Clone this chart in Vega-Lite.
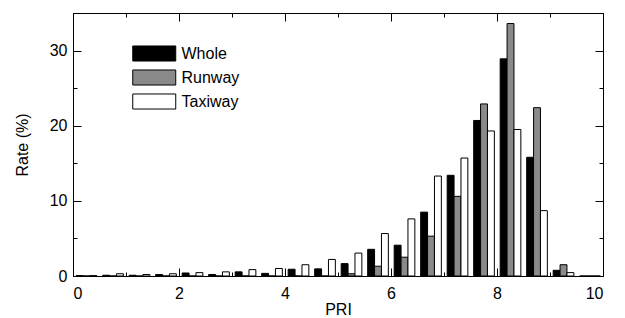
{
  "$schema": "https://vega.github.io/schema/vega-lite/v6.json",
  "width": 530,
  "height": 263,
  "autosize": {"type": "none"},
  "padding": {"left": 73, "top": 13, "right": 22, "bottom": 42},
  "background": "white",
  "config": {
    "font": "Liberation Sans",
    "view": {"stroke": "black", "strokeWidth": 1},
    "axis": {"grid": false, "domainColor": "black", "tickColor": "black", "labelColor": "black", "titleColor": "black", "labelFontSize": 16, "titleFontSize": 16, "titleFontWeight": "normal", "labelFont": "Liberation Sans", "titleFont": "Liberation Sans"}
  },
  "data": {
    "values": [
      {"pri": 0.25, "series": "Whole", "rate": 0.05}, {"pri": 0.25, "series": "Runway", "rate": 0}, {"pri": 0.25, "series": "Taxiway", "rate": 0.05},
      {"pri": 0.75, "series": "Whole", "rate": 0.1}, {"pri": 0.75, "series": "Runway", "rate": 0}, {"pri": 0.75, "series": "Taxiway", "rate": 0.3},
      {"pri": 1.25, "series": "Whole", "rate": 0.1}, {"pri": 1.25, "series": "Runway", "rate": 0}, {"pri": 1.25, "series": "Taxiway", "rate": 0.2},
      {"pri": 1.75, "series": "Whole", "rate": 0.2}, {"pri": 1.75, "series": "Runway", "rate": 0}, {"pri": 1.75, "series": "Taxiway", "rate": 0.3},
      {"pri": 2.25, "series": "Whole", "rate": 0.4}, {"pri": 2.25, "series": "Runway", "rate": 0}, {"pri": 2.25, "series": "Taxiway", "rate": 0.45},
      {"pri": 2.75, "series": "Whole", "rate": 0.2}, {"pri": 2.75, "series": "Runway", "rate": 0}, {"pri": 2.75, "series": "Taxiway", "rate": 0.55},
      {"pri": 3.25, "series": "Whole", "rate": 0.55}, {"pri": 3.25, "series": "Runway", "rate": 0}, {"pri": 3.25, "series": "Taxiway", "rate": 0.85},
      {"pri": 3.75, "series": "Whole", "rate": 0.35}, {"pri": 3.75, "series": "Runway", "rate": 0}, {"pri": 3.75, "series": "Taxiway", "rate": 1.0},
      {"pri": 4.25, "series": "Whole", "rate": 0.9}, {"pri": 4.25, "series": "Runway", "rate": 0}, {"pri": 4.25, "series": "Taxiway", "rate": 1.5},
      {"pri": 4.75, "series": "Whole", "rate": 0.95}, {"pri": 4.75, "series": "Runway", "rate": 0}, {"pri": 4.75, "series": "Taxiway", "rate": 2.2},
      {"pri": 5.25, "series": "Whole", "rate": 1.65}, {"pri": 5.25, "series": "Runway", "rate": 0.3}, {"pri": 5.25, "series": "Taxiway", "rate": 3.05},
      {"pri": 5.75, "series": "Whole", "rate": 3.55}, {"pri": 5.75, "series": "Runway", "rate": 1.3}, {"pri": 5.75, "series": "Taxiway", "rate": 5.65},
      {"pri": 6.25, "series": "Whole", "rate": 4.1}, {"pri": 6.25, "series": "Runway", "rate": 2.5}, {"pri": 6.25, "series": "Taxiway", "rate": 7.6},
      {"pri": 6.75, "series": "Whole", "rate": 8.5}, {"pri": 6.75, "series": "Runway", "rate": 5.3}, {"pri": 6.75, "series": "Taxiway", "rate": 13.3},
      {"pri": 7.25, "series": "Whole", "rate": 13.4}, {"pri": 7.25, "series": "Runway", "rate": 10.6}, {"pri": 7.25, "series": "Taxiway", "rate": 15.7},
      {"pri": 7.75, "series": "Whole", "rate": 20.7}, {"pri": 7.75, "series": "Runway", "rate": 22.9}, {"pri": 7.75, "series": "Taxiway", "rate": 19.3},
      {"pri": 8.25, "series": "Whole", "rate": 28.9}, {"pri": 8.25, "series": "Runway", "rate": 33.6}, {"pri": 8.25, "series": "Taxiway", "rate": 19.5},
      {"pri": 8.75, "series": "Whole", "rate": 15.8}, {"pri": 8.75, "series": "Runway", "rate": 22.4}, {"pri": 8.75, "series": "Taxiway", "rate": 8.7},
      {"pri": 9.25, "series": "Whole", "rate": 0.76}, {"pri": 9.25, "series": "Runway", "rate": 1.5}, {"pri": 9.25, "series": "Taxiway", "rate": 0.45},
      {"pri": 9.75, "series": "Whole", "rate": 0}, {"pri": 9.75, "series": "Runway", "rate": 0}, {"pri": 9.75, "series": "Taxiway", "rate": 0}
    ]
  },
  "transform": [
    {"calculate": "indexof(['Whole','Runway','Taxiway'], datum.series)", "as": "idx"},
    {"calculate": "datum.pri - 0.19 + 0.13 * datum.idx", "as": "xa"},
    {"calculate": "datum.xa + 0.13", "as": "xb"}
  ],
  "layer": [
    {
      "mark": {"type": "rect", "stroke": "black", "strokeWidth": 1},
      "encoding": {
        "x": {"field": "xa", "type": "quantitative", "scale": {"domain": [0, 10], "nice": false, "zero": false},
          "axis": {"orient": "bottom", "title": "PRI", "values": [0,1,2,3,4,5,6,7,8,9,10], "labelExpr": "datum.value % 2 === 0 ? datum.label : ''",
            "tickSize": {"condition": {"test": "datum.value % 2 === 0", "value": -8}, "value": -4},
            "labelPadding": 17, "titlePadding": 0, "domain": true}},
        "x2": {"field": "xb"},
        "y": {"field": "rate", "type": "quantitative", "scale": {"domain": [0, 35], "nice": false},
          "axis": {"orient": "left", "title": "Rate (%)", "values": [0,5,10,15,20,25,30], "labelExpr": "datum.value % 10 === 0 ? datum.label : ''",
            "tickSize": {"condition": {"test": "datum.value % 10 === 0", "value": -8}, "value": -4},
            "labelPadding": 14, "titlePadding": 19}},
        "y2": {"datum": 0},
        "fill": {"field": "series", "type": "nominal",
          "scale": {"domain": ["Whole", "Runway", "Taxiway"], "range": ["black", "#8a8a8a", "white"]},
          "legend": {"orient": "none", "legendX": 69.75, "legendY": 29, "title": null, "padding": 0,
            "symbolType": "M-2,-0.7H2V0.7H-2Z", "symbolSize": 462, "symbolStrokeColor": "black", "symbolStrokeWidth": 1,
            "labelFontSize": 16, "labelFont": "Liberation Sans", "labelColor": "black", "labelOffset": 15.75, "rowPadding": 2}}
      }
    },
    {
      "mark": {"type": "rect", "opacity": 0},
      "encoding": {
        "x": {"field": "xa", "type": "quantitative",
          "axis": {"orient": "top", "title": null, "values": [0,1,2,3,4,5,6,7,8,9,10], "labels": false,
            "tickSize": {"condition": {"test": "datum.value % 2 === 0", "value": -8}, "value": -4}}},
        "x2": {"field": "xb"},
        "y": {"field": "rate", "type": "quantitative",
          "axis": {"orient": "right", "title": null, "values": [0,5,10,15,20,25,30], "labels": false,
            "tickSize": {"condition": {"test": "datum.value % 10 === 0", "value": -8}, "value": -4}}},
        "y2": {"datum": 0}
      }
    }
  ],
  "resolve": {"axis": {"x": "independent", "y": "independent"}}
}
